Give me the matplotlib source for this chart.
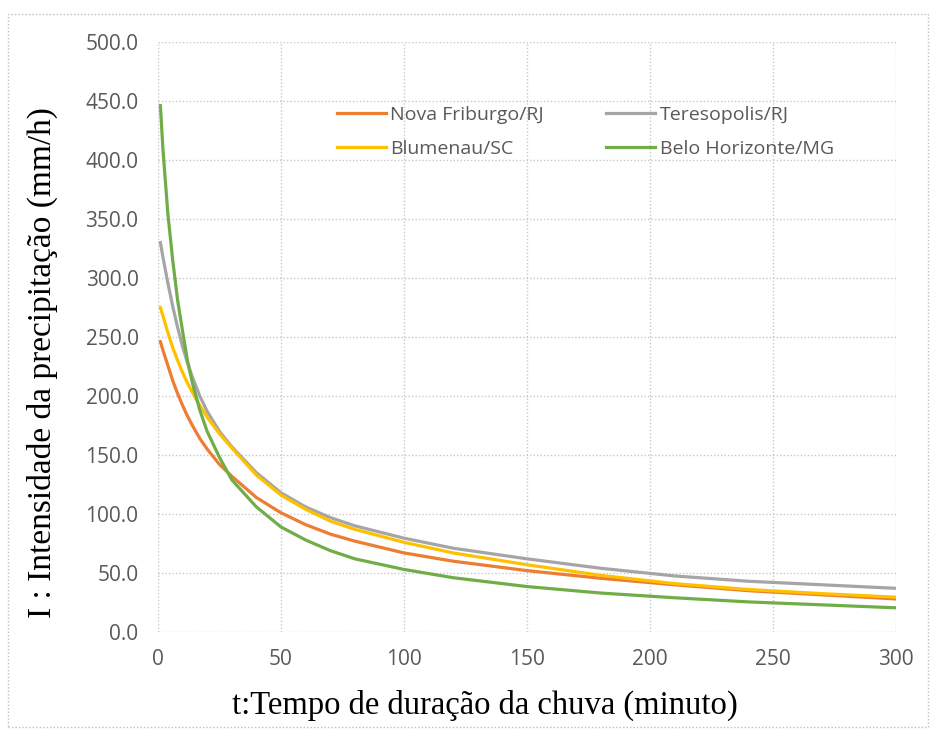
import matplotlib
matplotlib.use("Agg")
import matplotlib.pyplot as plt
from matplotlib.patches import Rectangle

# duration (minutes) and intensity (mm/h)
t_min = [1, 2, 4, 6, 8, 10, 12, 14, 17, 20, 25, 30, 40, 50, 60, 70, 80,
         100, 120, 150, 180, 210, 240, 270, 300]

nova_friburgo = [246, 239, 226, 213, 202, 192, 183, 175, 164, 155, 142, 132,
                 114, 101, 91, 83, 77, 67, 60, 52, 45.5, 40, 35, 31.5, 28]
teresopolis = [330, 318, 296, 276, 258, 242, 228, 216, 200, 187, 170, 157,
               135, 118, 106, 97, 90, 79.5, 71, 62, 54, 47.5, 43, 40, 37]
blumenau = [275, 268, 254, 241, 230, 220, 211, 203, 192, 182, 168, 156,
            133, 116, 104, 94, 87, 76, 67, 57, 48, 41, 36, 32.5, 29.5]
belo_horizonte = [446, 410, 355, 315, 281, 255, 230, 211, 188, 170, 148, 129,
                  106, 89, 78, 69, 62, 53, 46, 38.5, 33, 29, 25.5, 23, 20.5]

series = [
    ("Nova Friburgo/RJ", nova_friburgo, "#ED7D31"),
    ("Teresopolis/RJ", teresopolis, "#A5A5A5"),
    ("Blumenau/SC", blumenau, "#FFC000"),
    ("Belo Horizonte/MG", belo_horizonte, "#70AD47"),
]

plt.rcParams["font.family"] = ["Open Sans", "DejaVu Sans"]

fig = plt.figure(figsize=(9.33, 7.33), dpi=100)
ax = fig.add_axes([0.1693, 0.1378, 0.7911, 0.8049])

lines = {}
for name, vals, col in series:
    (ln,) = ax.plot(t_min, vals, color=col, linewidth=2.3, label=name)
    lines[name] = ln

ax.set_xlim(0, 300)
ax.set_ylim(0, 500)
ax.set_xticks(range(0, 301, 50))
ax.set_yticks(range(0, 501, 50))
ax.set_yticklabels([f"{v:.1f}" for v in range(0, 501, 50)])
ax.tick_params(length=0, labelsize=15, labelcolor="#595959")
ax.tick_params(axis="y", pad=14)
ax.tick_params(axis="x", pad=12)

for s in ax.spines.values():
    s.set_visible(False)
ax.grid(True, color="#C8C8C8", linestyle=(0, (1, 1.5)), linewidth=1)
ax.set_axisbelow(True)

ax.set_xlabel("t:Tempo de duração da chuva (minuto)", family="Liberation Serif",
              fontsize=23.5, color="black")
ax.set_ylabel("I : Intensidade da precipitação (mm/h)", family="Liberation Serif",
              fontsize=24, color="black")
ax.xaxis.set_label_coords(0.443, -0.098)
ax.yaxis.set_label_coords(-0.135, 0.457)

# legend: two columns, row-wise as in the reference
order = ["Nova Friburgo/RJ", "Blumenau/SC", "Teresopolis/RJ", "Belo Horizonte/MG"]
leg = ax.legend([lines[n] for n in order], order, ncol=2, loc="upper left",
                bbox_to_anchor=(0.2425, 0.892), frameon=False, fontsize=14,
                handlelength=2.5, handletextpad=0.25, columnspacing=3.2,
                labelspacing=0.85, borderpad=0, borderaxespad=0)
for txt in leg.get_texts():
    txt.set_color("#595959")

# dotted frame around the whole picture
fig.patches.append(Rectangle((8 / 933, 6 / 733), 920 / 933, 713 / 733,
                             transform=fig.transFigure, fill=False,
                             edgecolor="#BFBFBF", linestyle=(0, (1, 1.5)),
                             linewidth=1))

fig.savefig("out.png", dpi=100)
